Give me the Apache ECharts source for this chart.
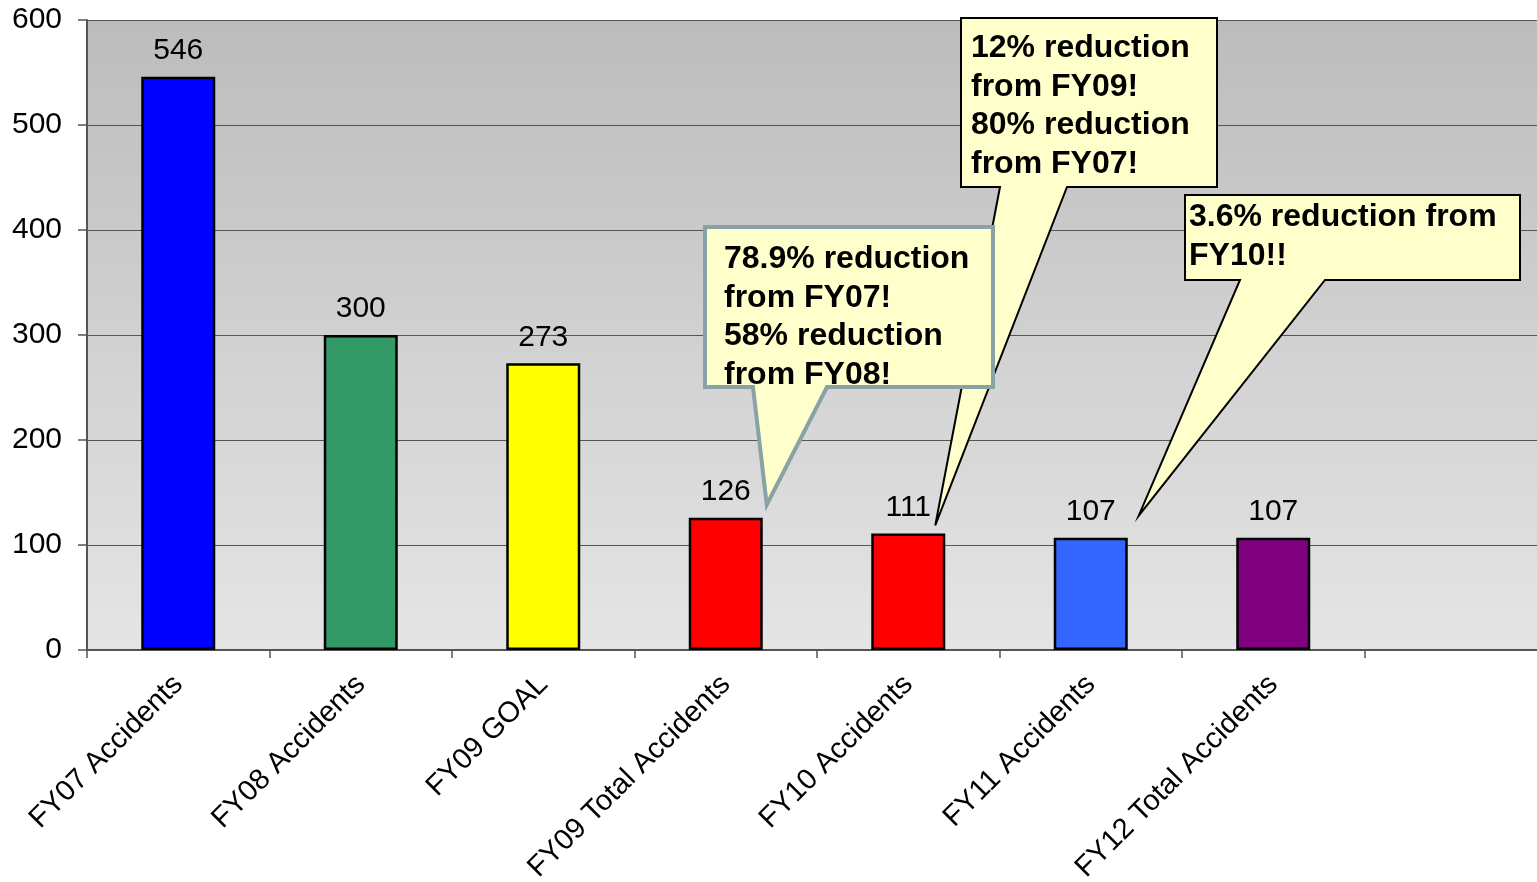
<!DOCTYPE html>
<html>
<head>
<meta charset="utf-8">
<script src="https://cdn.jsdelivr.net/npm/echarts@6/dist/echarts.min.js"></script>
<style>
html,body{margin:0;padding:0;background:#fff;}
#main{width:1537px;height:882px;}
</style>
</head>
<body>
<div id="main"></div>
<script>
// ---- data ----
const categories = ['FY07 Accidents','FY08 Accidents','FY09 GOAL','FY09 Total Accidents','FY10 Accidents','FY11 Accidents','FY12 Total Accidents',''];
const values = [546, 300, 273, 126, 111, 107, 107];
const barColors = ['#0000FF','#339966','#FFFF00','#FF0000','#FF0000','#3366FF','#800080'];
const yTicks = [0, 100, 200, 300, 400, 500, 600];
const calloutA = ['78.9% reduction', 'from FY07!', '58% reduction', 'from FY08!'];
const calloutB = ['12% reduction', 'from FY09!', '80% reduction', 'from FY07!'];
const calloutC = ['3.6% reduction from', 'FY10!!'];

const FONT = '"Liberation Sans", Arial, sans-serif';
const chart = echarts.init(document.getElementById('main'), null, {renderer: 'canvas'});

const option = {
  animation: false,
  backgroundColor: '#ffffff',
  grid: {
    left: 87, top: 20, width: 1460, bottom: 232,
    outerBoundsMode: 'none',
    containLabel: false,
    show: true,
    borderWidth: 0,
    backgroundColor: {
      type: 'linear', x: 0, y: 0, x2: 0, y2: 1,
      colorStops: [{offset: 0, color: '#bcbcbc'}, {offset: 1, color: '#e5e5e5'}]
    }
  },
  xAxis: {
    type: 'category',
    data: categories,
    boundaryGap: true,
    axisLine: {lineStyle: {color: '#555555', width: 2}},
    axisTick: {show: true, length: 8, lineStyle: {color: '#555555', width: 1.5}},
    axisLabel: {
      rotate: 45, margin: 30, interval: 0,
      fontSize: 29, color: '#000', fontFamily: FONT
    },
    splitLine: {show: false}
  },
  yAxis: {
    type: 'value',
    min: yTicks[0], max: yTicks[yTicks.length - 1], interval: 100,
    axisLine: {show: true, lineStyle: {color: '#555555', width: 2}},
    axisTick: {show: true, length: 9, lineStyle: {color: '#555555', width: 1.5}},
    axisLabel: {margin: 25, fontSize: 30, color: '#000', fontFamily: FONT},
    splitLine: {show: true, lineStyle: {color: '#555555', width: 1.2}}
  },
  series: [{
    type: 'bar',
    barWidth: 74,
    data: values.map((v, i) => ({
      value: v,
      itemStyle: {color: barColors[i], borderColor: '#000', borderWidth: 2.5}
    })),
    label: {
      show: true, position: 'top', distance: 11,
      fontSize: 30, color: '#000', fontFamily: FONT
    },
    z: 2
  }]
};
chart.setOption(option);

// ---- callouts (layout boxes, tips anchored to data points) ----
function tip(idx, dx, dy) {
  const p = chart.convertToPixel({seriesIndex: 0}, [idx, values[idx]]);
  return [p[0] + dx, p[1] + dy];
}
function callout(box, base, t, stroke, lw, lines, tx, ty, z) {
  const [x1, y1, x2, y2] = box;
  const pts = [[x1, y1], [x2, y1], [x2, y2], [base[1], y2], t, [base[0], y2], [x1, y2]];
  return [
    {type: 'polygon', z: z, shape: {points: pts},
     style: {fill: '#FFFFCC', stroke: stroke, lineWidth: lw, lineJoin: 'miter'}},
    {type: 'text', z: z + 1, x: tx, y: ty,
     style: {text: lines.join('\n'), font: 'bold 32px ' + FONT, fill: '#000',
             lineHeight: 38.5, verticalAlign: 'top', align: 'left'}}
  ];
}
const tA = tip(3, 41, -13);
const tB = tip(4, 27, -8);
const tC = tip(5, 48, -22);
chart.setOption({
  graphic: [].concat(
    callout([961, 18, 1217, 187], [1000, 1067], tB, '#000', 2, calloutB, 971, 29, 100),
    callout([1185, 195, 1520, 280], [1240, 1325], tC, '#000', 2, calloutC, 1189, 198, 100),
    callout([705, 227, 993, 387], [753, 827], tA, '#88A2A6', 4, calloutA, 724, 240, 110)
  )
});
</script>
</body>
</html>
